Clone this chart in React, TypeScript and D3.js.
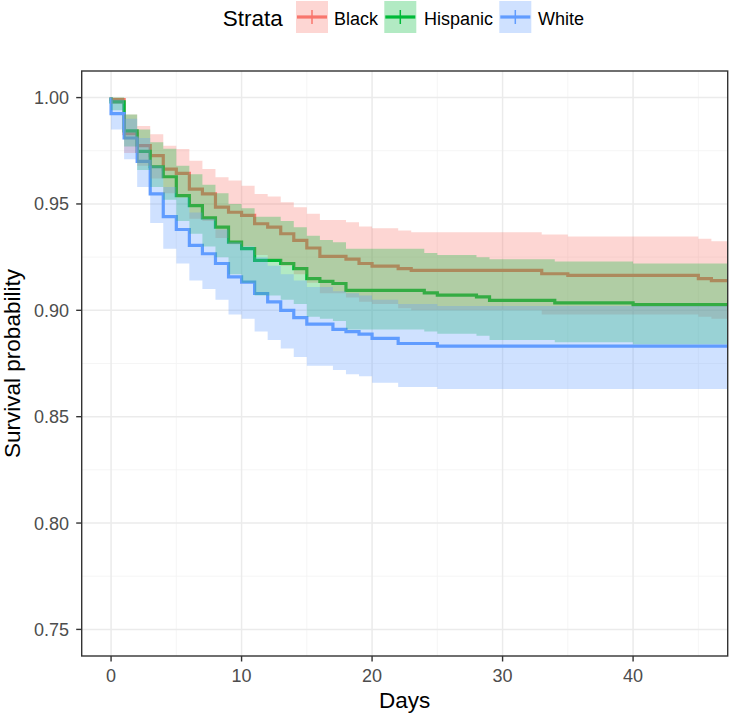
import * as d3 from 'd3';

// Kaplan-Meier estimates by strata
const strata = ['Black', 'Hispanic', 'White'];
const strataColors = ['#F8766D', '#00BA38', '#619CFF'];

const blackDays = [0, 0, 1, 2, 3, 4, 5, 6, 7, 8, 9, 10, 11, 12, 13, 14, 15, 16, 18, 19, 20, 22, 23, 33, 35, 45, 46];
const blackSurv = [1, 0.999, 0.983, 0.9774, 0.9727, 0.9664, 0.9644, 0.957, 0.9547, 0.9485, 0.9461, 0.9446, 0.9407, 0.9391, 0.936, 0.9329, 0.9293, 0.9254, 0.9241, 0.922, 0.9208, 0.9196, 0.9188, 0.9172, 0.9164, 0.9149, 0.914];
const blackUpper = [1, 1, 0.992, 0.9867, 0.9828, 0.9774, 0.9758, 0.9703, 0.9664, 0.9625, 0.961, 0.9586, 0.9547, 0.9535, 0.9508, 0.9485, 0.9454, 0.9425, 0.9414, 0.9394, 0.9386, 0.9375, 0.9367, 0.9357, 0.9347, 0.9336, 0.9325];
const blackLower = [1, 0.997, 0.974, 0.968, 0.962, 0.955, 0.953, 0.943, 0.942, 0.934, 0.931, 0.930, 0.926, 0.924, 0.921, 0.917, 0.913, 0.908, 0.906, 0.904, 0.903, 0.901, 0.900, 0.898, 0.898, 0.897, 0.896];

const hispanicDays = [0, 0, 1, 2, 3, 4, 5, 6, 7, 8, 9, 10, 11, 13, 14, 15, 16, 17, 18, 24, 25, 28, 29, 34, 40];
const hispanicSurv = [1, 0.998, 0.9844, 0.9747, 0.9675, 0.9628, 0.9539, 0.9492, 0.9435, 0.9391, 0.9321, 0.929, 0.9235, 0.922, 0.9196, 0.9149, 0.9136, 0.9126, 0.9094, 0.9082, 0.9071, 0.9063, 0.9047, 0.9035, 0.9027];
const hispanicUpper = [1, 1, 0.992, 0.985, 0.979, 0.976, 0.968, 0.964, 0.959, 0.955, 0.95, 0.948, 0.944, 0.942, 0.939, 0.935, 0.933, 0.932, 0.929, 0.927, 0.926, 0.925, 0.924, 0.923, 0.922];
const hispanicLower = [1, 0.994, 0.977, 0.966, 0.958, 0.952, 0.942, 0.936, 0.93, 0.925, 0.917, 0.913, 0.907, 0.905, 0.903, 0.897, 0.896, 0.895, 0.891, 0.89, 0.889, 0.888, 0.886, 0.885, 0.884];

const whiteDays = [0, 0, 1, 2, 3, 4, 5, 6, 7, 8, 9, 10, 11, 12, 13, 14, 15, 17, 18, 19, 20, 22, 25];
const whiteSurv = [1, 0.9925, 0.981, 0.97, 0.9547, 0.944, 0.938, 0.9305, 0.9266, 0.922, 0.9157, 0.9133, 0.9079, 0.904, 0.9, 0.8966, 0.8935, 0.891, 0.89, 0.8888, 0.8868, 0.8844, 0.8832];
const whiteUpper = [1, 0.999, 0.99, 0.981, 0.968, 0.958, 0.953, 0.946, 0.943, 0.938, 0.932, 0.93, 0.925, 0.921, 0.917, 0.914, 0.911, 0.909, 0.908, 0.907, 0.905, 0.903, 0.902];
const whiteLower = [1, 0.985, 0.971, 0.958, 0.941, 0.929, 0.922, 0.914, 0.91, 0.905, 0.898, 0.896, 0.89, 0.886, 0.882, 0.878, 0.874, 0.872, 0.87, 0.869, 0.866, 0.864, 0.863];

const xTicks = [0, 10, 20, 30, 40];
const xMinor = [5, 15, 25, 35, 45];
const yTicks = [0.75, 0.8, 0.85, 0.9, 0.95, 1.0];
const yMinor = [0.775, 0.825, 0.875, 0.925, 0.975];

const W = 729;
const H = 715;
const panel = { left: 81.7, right: 727.7, top: 71, bottom: 656 };
const font = '"Liberation Sans", Arial, Helvetica, sans-serif';

interface Pt { t: number; s: number; lo: number; hi: number }

function toPoints(days: number[], surv: number[], lo: number[], hi: number[]): Pt[] {
  return days.map((t, i) => ({ t, s: surv[i], lo: lo[i], hi: hi[i] }));
}

const series = [
  toPoints(blackDays, blackSurv, blackLower, blackUpper),
  toPoints(hispanicDays, hispanicSurv, hispanicLower, hispanicUpper),
  toPoints(whiteDays, whiteSurv, whiteLower, whiteUpper),
];

export default function App() {
  const x = d3.scaleLinear().domain([-2.25, 47.25]).range([panel.left, panel.right]);
  const y = d3.scaleLinear().domain([0.7375, 1.0125]).range([panel.bottom, panel.top]);
  const xEnd = x.domain()[1];

  // carry the last step out to the edge of the panel
  const extended = series.map(pts => [...pts, { ...pts[pts.length - 1], t: xEnd }]);

  const line = d3.line<Pt>().x(d => x(d.t)).y(d => y(d.s)).curve(d3.curveStepAfter);
  const area = d3.area<Pt>().x(d => x(d.t)).y0(d => y(d.lo)).y1(d => y(d.hi)).curve(d3.curveStepAfter);

  const pw = panel.right - panel.left;
  const ph = panel.bottom - panel.top;

  // legend layout
  const keyBoxes = [296, 384.3, 499.3];
  const keyLabels = [334, 424, 538];

  return (
    <svg width={W} height={H} style={{ position: 'absolute', left: 0, top: 0, background: 'white' }} fontFamily={font}>
      <defs>
        <clipPath id="panel-clip">
          <rect x={panel.left} y={panel.top} width={pw} height={ph} />
        </clipPath>
      </defs>
      <rect x={0} y={0} width={W} height={H} fill="white" />

      {/* grid */}
      {xMinor.map(v => (
        <line key={'xm' + v} x1={x(v)} x2={x(v)} y1={panel.top} y2={panel.bottom} stroke="#F2F2F2" strokeWidth={0.8} />
      ))}
      {yMinor.map(v => (
        <line key={'ym' + v} x1={panel.left} x2={panel.right} y1={y(v)} y2={y(v)} stroke="#F2F2F2" strokeWidth={0.8} />
      ))}
      {xTicks.map(v => (
        <line key={'xg' + v} x1={x(v)} x2={x(v)} y1={panel.top} y2={panel.bottom} stroke="#EBEBEB" strokeWidth={1.5} />
      ))}
      {yTicks.map(v => (
        <line key={'yg' + v} x1={panel.left} x2={panel.right} y1={y(v)} y2={y(v)} stroke="#EBEBEB" strokeWidth={1.5} />
      ))}

      <g clipPath="url(#panel-clip)">
        {extended.map((pts, i) => (
          <path key={'l' + i} d={line(pts) ?? ''} fill="none" stroke={strataColors[i]} strokeWidth={3.2} />
        ))}
        {extended.map((pts, i) => (
          <path key={'a' + i} d={area(pts) ?? ''} fill={strataColors[i]} fillOpacity={0.3} stroke="none" />
        ))}
      </g>

      <rect x={panel.left} y={panel.top} width={pw} height={ph} fill="none" stroke="#333333" strokeWidth={1.4} />

      {/* y axis */}
      {yTicks.map(v => (
        <g key={'yt' + v}>
          <line x1={panel.left - 5.5} x2={panel.left} y1={y(v)} y2={y(v)} stroke="#333333" strokeWidth={1.4} />
          <text x={69} y={y(v) + 6.5} textAnchor="end" fontSize={18} fill="#4D4D4D">{d3.format('.2f')(v)}</text>
        </g>
      ))}
      {/* x axis */}
      {xTicks.map(v => (
        <g key={'xt' + v}>
          <line x1={x(v)} x2={x(v)} y1={panel.bottom} y2={panel.bottom + 5.5} stroke="#333333" strokeWidth={1.4} />
          <text x={x(v)} y={682} textAnchor="middle" fontSize={18} fill="#4D4D4D">{v}</text>
        </g>
      ))}

      <text x={(panel.left + panel.right) / 2} y={708} textAnchor="middle" fontSize={22.5} fill="black">Days</text>
      <text transform={`translate(20,${(panel.top + panel.bottom) / 2}) rotate(-90)`} textAnchor="middle" fontSize={22.5} fill="black">
        Survival probability
      </text>

      {/* legend */}
      <text x={222.7} y={26} fontSize={22.5} fill="black">Strata</text>
      {strata.map((name, i) => (
        <g key={'lg' + name}>
          <rect x={keyBoxes[i]} y={1} width={32} height={32} fill={strataColors[i]} fillOpacity={0.3} />
          <line x1={keyBoxes[i] + 1} x2={keyBoxes[i] + 31} y1={17} y2={17} stroke={strataColors[i]} strokeWidth={3.2} />
          <line x1={keyBoxes[i] + 16} x2={keyBoxes[i] + 16} y1={10} y2={24} stroke={strataColors[i]} strokeWidth={1.5} />
          <text x={keyLabels[i]} y={24.5} fontSize={18} fill="black">{name}</text>
        </g>
      ))}
    </svg>
  );
}
